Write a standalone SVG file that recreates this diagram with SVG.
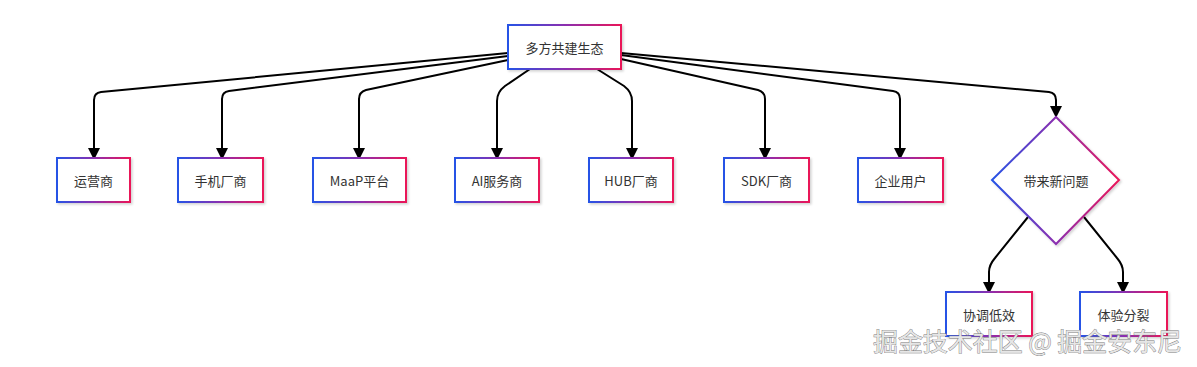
<svg xmlns="http://www.w3.org/2000/svg" width="1197" height="367" viewBox="0 0 1197 367">
<defs>
<linearGradient id="g" x1="0" y1="0" x2="1" y2="0">
<stop offset="0" stop-color="#2553e6"/>
<stop offset="0.5" stop-color="#8a2fb0"/>
<stop offset="1" stop-color="#ea1558"/>
</linearGradient>
<filter id="sh" x="-10%" y="-10%" width="130%" height="130%">
<feDropShadow dx="1.5" dy="1.5" stdDeviation="1" flood-color="#000" flood-opacity="0.18"/>
</filter>
<marker id="arr" markerUnits="userSpaceOnUse" markerWidth="12" markerHeight="12" viewBox="0 0 10 10" refX="0" refY="5" orient="auto">
<path d="M0,0 L10,5 L0,10 z" fill="#000"/>
</marker>
</defs>
<style>
.box{fill:#fff;stroke:url(#g);stroke-width:2;filter:url(#sh)}
.t{font-family:"Noto Sans CJK SC","Liberation Sans",sans-serif;font-size:13px;fill:#333;text-anchor:middle;dominant-baseline:central}
.e{fill:none;stroke:#000;stroke-width:2;marker-end:url(#arr)}
.wm{font-family:"Noto Sans CJK SC",sans-serif;font-size:25px;fill:#e6e6e6;stroke:#777;stroke-width:0.8;paint-order:stroke}
</style>
<rect width="1197" height="367" fill="#fff"/>
<g id="edges">
<path class="e" d="M508,53 L101,92 Q94,93 94,100 L94,148"/>
<path class="e" d="M508,56 L229,91 Q222,92 222,99 L222,148"/>
<path class="e" d="M508,60 L366,90 Q359,92 359,99 L359,148"/>
<path class="e" d="M530,69 L505,86 Q497,92 497,101 L497,148"/>
<path class="e" d="M597,69 L624,86 Q632,92 632,101 L632,148"/>
<path class="e" d="M621,59 L758,90 Q765,92 765,99 L765,148"/>
<path class="e" d="M621,55 L893,91 Q900,92 900,99 L900,148"/>
<path class="e" d="M621,53 L1049,92 Q1056,93 1056,100 L1056,106"/>
<path class="e" d="M1028,217 L995,258 Q989,265 989,272 L989,282"/>
<path class="e" d="M1084,217 L1117,258 Q1123,265 1123,272 L1123,282"/>
</g>
<g id="n0"><rect class="box" x="508" y="25" width="113" height="44"/><text class="t" x="564.5" y="47">多方共建生态</text></g>
<g id="n1"><rect class="box" x="57" y="158" width="73" height="44"/><text class="t" x="93.5" y="180">运营商</text></g>
<g id="n2"><rect class="box" x="178" y="158" width="85" height="44"/><text class="t" x="220.5" y="180">手机厂商</text></g>
<g id="n3"><rect class="box" x="313" y="158" width="93" height="44"/><text class="t" x="359.5" y="180">MaaP平台</text></g>
<g id="n4"><rect class="box" x="455" y="158" width="84" height="44"/><text class="t" x="497" y="180">AI服务商</text></g>
<g id="n5"><rect class="box" x="589" y="158" width="84" height="44"/><text class="t" x="631" y="180">HUB厂商</text></g>
<g id="n6"><rect class="box" x="724" y="158" width="85" height="44"/><text class="t" x="766.5" y="180">SDK厂商</text></g>
<g id="n7"><rect class="box" x="858" y="158" width="85" height="44"/><text class="t" x="900.5" y="180">企业用户</text></g>
<g id="n8"><path class="box" d="M1056,117 L1119,180 L1056,244 L992,180 Z"/><text class="t" x="1056" y="180">带来新问题</text></g>
<g id="n9"><rect class="box" x="946" y="292" width="86" height="44"/><text class="t" x="989" y="314">协调低效</text></g>
<g id="n10"><rect class="box" x="1080" y="292" width="87" height="44"/><text class="t" x="1123.5" y="314">体验分裂</text></g>
<text class="wm" x="873" y="351" textLength="309" lengthAdjust="spacingAndGlyphs">掘金技术社区 @ 掘金安东尼</text>
</svg>
